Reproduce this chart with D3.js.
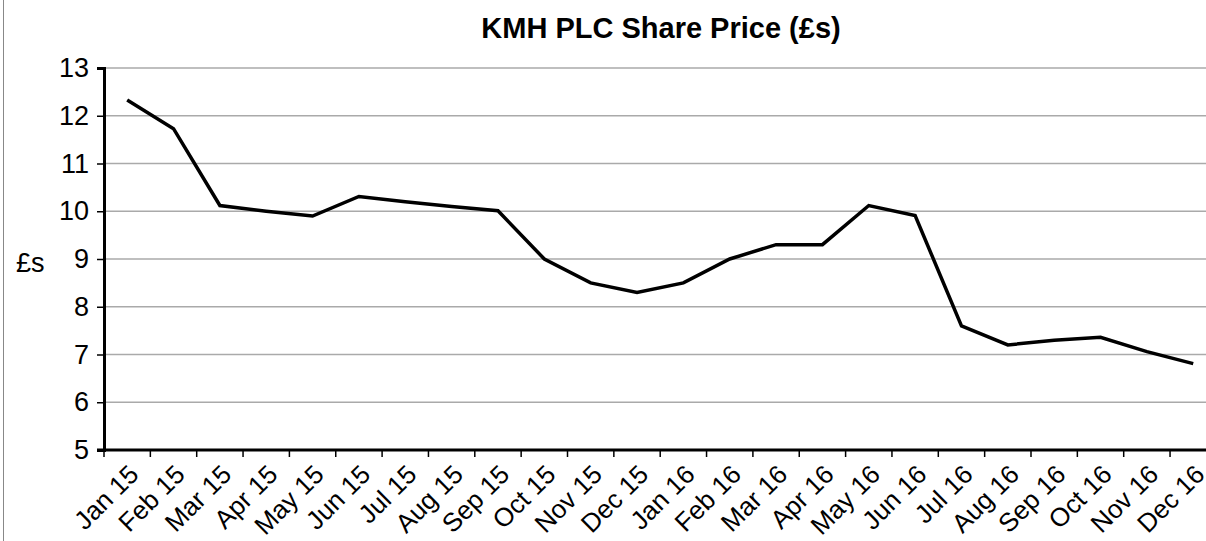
<!DOCTYPE html>
<html>
<head>
<meta charset="utf-8">
<script src="https://cdn.jsdelivr.net/npm/d3@7"></script>
<style>
  body { margin: 0; background: #fff; }
  svg { display: block; font-family: "Liberation Sans", Arial, sans-serif; }
</style>
</head>
<body>
<script>
// data
var months = ["Jan 15","Feb 15","Mar 15","Apr 15","May 15","Jun 15","Jul 15","Aug 15","Sep 15","Oct 15","Nov 15","Dec 15",
              "Jan 16","Feb 16","Mar 16","Apr 16","May 16","Jun 16","Jul 16","Aug 16","Sep 16","Oct 16","Nov 16","Dec 16"]
var prices = [12.33, 11.73, 10.12, 10.0, 9.9, 10.31, 10.2, 10.1, 10.01, 9.0, 8.5, 8.3,
              8.5, 9.0, 9.3, 9.3, 10.12, 9.91, 7.6, 7.2, 7.3, 7.36, 7.06, 6.81]
var yTicks = [5, 6, 7, 8, 9, 10, 11, 12, 13]

var width = 1206, height = 541
var plotLeft = 104, plotTop = 68, plotBottom = 450
var step = 46.35

var svg = d3.select("body")
  .append("svg")
  .attr("width", width)
  .attr("height", height)

// outer frame line on the left
svg.append("line")
  .attr("x1", 3.5).attr("x2", 3.5)
  .attr("y1", 0).attr("y2", height)
  .attr("stroke", "#888").attr("stroke-width", 1)

var x = d3.scaleBand()
  .domain(months)
  .range([plotLeft, plotLeft + step * months.length])

var y = d3.scaleLinear()
  .domain([5, 13])
  .range([plotBottom, plotTop])

// horizontal gridlines
svg.append("g")
  .selectAll("line")
  .data(yTicks.filter(function(d){ return d > 5 }))
  .enter()
  .append("line")
    .attr("x1", plotLeft).attr("x2", width)
    .attr("y1", function(d){ return y(d) }).attr("y2", function(d){ return y(d) })
    .attr("stroke", "#aaa").attr("stroke-width", 1.5)

// y axis
var yAxis = svg.append("g")
  .attr("transform", "translate(" + plotLeft + ",0)")
  .call(d3.axisLeft(y).tickValues(yTicks).tickSize(7).tickPadding(8))
yAxis.select(".domain").attr("stroke", "#000").attr("stroke-width", 3)
yAxis.selectAll(".tick line").attr("stroke", "#000").attr("stroke-width", 1.5)
yAxis.selectAll(".tick text").style("font-size", "27px").attr("fill", "#000")
yAxis.attr("font-family", null)

// x axis: ticks on band boundaries
var bounds = d3.range(months.length + 1).map(function(i){ return plotLeft + i * step })
svg.append("g")
  .selectAll("line")
  .data(bounds)
  .enter()
  .append("line")
    .attr("x1", function(d){ return d }).attr("x2", function(d){ return d })
    .attr("y1", plotBottom).attr("y2", plotBottom + 7)
    .attr("stroke", "#000").attr("stroke-width", 1.5)
svg.append("line")
  .attr("x1", plotLeft - 7).attr("x2", width)
  .attr("y1", plotBottom).attr("y2", plotBottom)
  .attr("stroke", "#000").attr("stroke-width", 3)

// rotated month labels
svg.append("g")
  .selectAll("text")
  .data(months)
  .enter()
  .append("text")
    .text(function(d){ return d })
    .attr("text-anchor", "end")
    .style("font-size", "26px")
    .attr("transform", function(d){
      return "translate(" + (x(d) + x.bandwidth() / 2 + 13) + "," + (plotBottom + 26) + ")rotate(-45)"
    })

// the price line
var line = d3.line()
  .x(function(d, i){ return x(months[i]) + x.bandwidth() / 2 })
  .y(function(d){ return y(d) })

svg.append("path")
  .datum(prices)
  .attr("d", line)
  .attr("fill", "none")
  .attr("stroke", "#000")
  .attr("stroke-width", 3.5)
  .attr("stroke-linejoin", "miter")

// title and y label
svg.append("text")
  .attr("x", 661).attr("y", 38)
  .attr("text-anchor", "middle")
  .style("font-size", "29px")
  .style("font-weight", "bold")
  .text("KMH PLC Share Price (£s)")

svg.append("text")
  .attr("x", 16).attr("y", 272)
  .style("font-size", "27px")
  .text("£s")
</script>
</body>
</html>
